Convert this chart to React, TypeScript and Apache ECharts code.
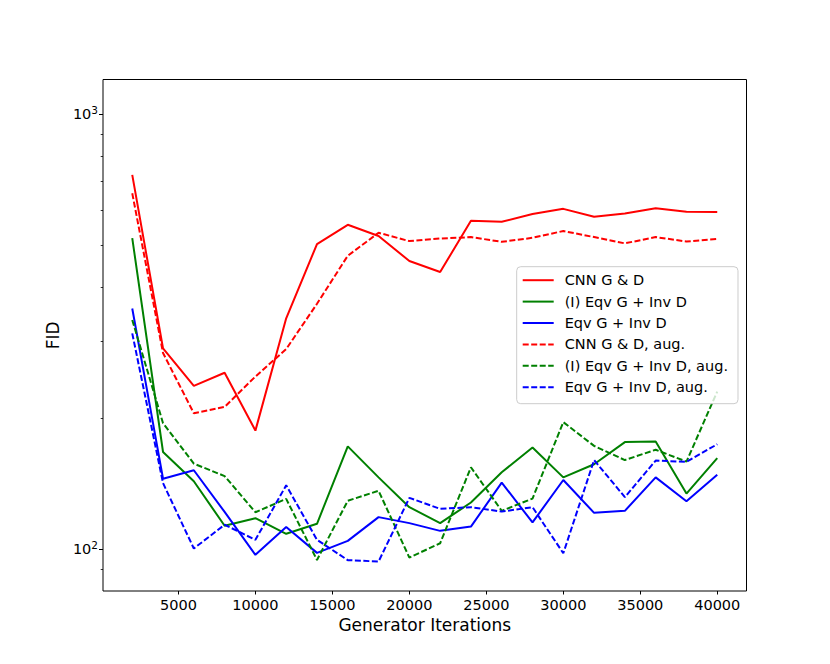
import React, { useEffect, useRef } from "react";
import * as echarts from "echarts";

const iterations = [2000, 4000, 6000, 8000, 10000, 12000, 14000, 16000, 18000, 20000, 22000, 24000, 26000, 28000, 30000, 32000, 34000, 36000, 38000, 40000];

const cnn = [724, 289, 237, 254, 187, 339, 502, 556, 524, 459, 433, 568, 565, 589, 605, 580, 590, 607, 596, 595];
const ieqv = [518, 167, 143, 113, 117.6, 108.3, 114.2, 172, 146, 124.7, 114.6, 127.8, 150, 171, 146, 156.5, 176, 176.5, 134, 161.6];
const eqv = [357, 145, 151.6, 121.6, 96.9, 112.3, 97.9, 104.3, 118.3, 114.6, 110, 112.5, 142, 115, 144, 121, 122.3, 146, 128.7, 148];
const cnnAug = [657, 282, 205, 212, 249, 288, 366, 472, 533, 510, 517, 521, 508, 519, 538, 521, 504, 521, 509, 516];
const ieqvAug = [336, 194.5, 157, 147, 121.4, 130.3, 94.3, 129, 136, 95.5, 103, 154, 122.3, 130.5, 195.6, 172.5, 160, 169, 158.7, 230];
const eqvAug = [313, 141.6, 100.2, 113.6, 104.9, 140, 104.9, 94.2, 93.5, 131, 123.6, 124.7, 121.8, 124.7, 97.7, 160, 131.5, 159.6, 158.5, 174];

const seriesNames = [
  "CNN G & D",
  "(I) Eqv G + Inv D",
  "Eqv G + Inv D",
  "CNN G & D, aug.",
  "(I) Eqv G + Inv D, aug.",
  "Eqv G + Inv D, aug.",
];
const seriesValues = [cnn, ieqv, eqv, cnnAug, ieqvAug, eqvAug];
const seriesColors = ["#ff0000", "#008000", "#0000ff", "#ff0000", "#008000", "#0000ff"];
const seriesDashed = [false, false, false, true, true, true];

const xTicks = [5000, 10000, 15000, 20000, 25000, 30000, 35000, 40000];
const yMajorTicks = [100, 1000];
const yMinorTicks = [90, 200, 300, 400, 500, 600, 700, 800, 900];

const FONT = "DejaVu Sans";

export default function App() {
  const ref = useRef<HTMLDivElement>(null);
  useEffect(() => {
    if (!ref.current) return;
    const chart = echarts.init(ref.current, null, { renderer: "svg" });
    chart.setOption({
      animation: false,
      backgroundColor: "#ffffff",
      grid: {
        left: 103,
        right: 83.5,
        top: 79.5,
        bottom: 73,
        show: true,
        borderColor: "#000000",
        borderWidth: 1,
        backgroundColor: "transparent",
      },
      xAxis: {
        type: "value",
        min: 100,
        max: 41900,
        axisLine: { show: false },
        splitLine: { show: false },
        axisTick: {
          show: true,
          length: 3.5,
          customValues: xTicks,
          lineStyle: { color: "#000", width: 1 },
        },
        axisLabel: {
          customValues: xTicks,
          fontSize: 14.5,
          fontFamily: FONT,
          color: "#000",
          margin: 6,
          formatter: (v: number) => String(v),
        },
        name: "Generator Iterations",
        nameLocation: "middle",
        nameGap: 25,
        nameTextStyle: { fontSize: 17, fontFamily: FONT, color: "#000" },
      },
      yAxis: [
        {
          type: "log",
          logBase: 10,
          min: 80,
          max: 1200,
          axisLine: { show: false },
          splitLine: { show: false },
          axisTick: {
            show: true,
            length: 4,
            customValues: yMajorTicks,
            lineStyle: { color: "#000", width: 1 },
          },
          axisLabel: {
            customValues: yMajorTicks,
            fontSize: 14.5,
            fontFamily: FONT,
            color: "#000",
            margin: 5,
            formatter: (v: number) =>
              Math.abs(v - 100) < 1e-6 ? "{b|10}{s|2}" : Math.abs(v - 1000) < 1e-6 ? "{b|10}{s|3}" : "",
            rich: {
              b: { fontSize: 14.5, fontFamily: FONT, color: "#000" },
              s: { fontSize: 10.5, fontFamily: FONT, color: "#000", padding: [0, 0, 8, 0] },
            },
          },
          name: "FID",
          nameLocation: "middle",
          nameGap: 25,
          nameTextStyle: { fontSize: 17, fontFamily: FONT, color: "#000" },
        },
        {
          type: "log",
          logBase: 10,
          min: 80,
          max: 1200,
          position: "left",
          axisLine: { show: false },
          splitLine: { show: false },
          axisLabel: { show: false },
          axisTick: {
            show: true,
            length: 2.3,
            customValues: yMinorTicks,
            lineStyle: { color: "#000", width: 0.8 },
          },
        },
      ],
      legend: {
        orient: "vertical",
        left: 516.7,
        top: 266.7,
        itemWidth: 31,
        itemHeight: 14,
        itemGap: 6.4,
        padding: [6, 10, 9, 5],
        borderColor: "#cccccc",
        borderWidth: 1,
        borderRadius: 4,
        backgroundColor: "rgba(255,255,255,0.8)",
        itemStyle: { opacity: 0 },
        textStyle: {
          fontSize: 14.5,
          fontFamily: FONT,
          color: "#000",
          lineHeight: 14,
          padding: [0, 0, 0, 6],
        },
        data: seriesNames,
      },
      series: seriesNames.map((name, k) => ({
        name,
        type: "line",
        yAxisIndex: 0,
        symbol: "none",
        showSymbol: false,
        data: iterations.map((x, i) => [x, seriesValues[k][i]]),
        lineStyle: {
          color: seriesColors[k],
          width: 2,
          type: seriesDashed[k] ? [6, 2.5] : "solid",
        },
        itemStyle: { color: seriesColors[k] },
      })),
    });
    return () => chart.dispose();
  }, []);
  return (
    <div
      ref={ref}
      style={{ position: "absolute", left: 0, top: 0, width: 830, height: 664, background: "#fff" }}
    />
  );
}
